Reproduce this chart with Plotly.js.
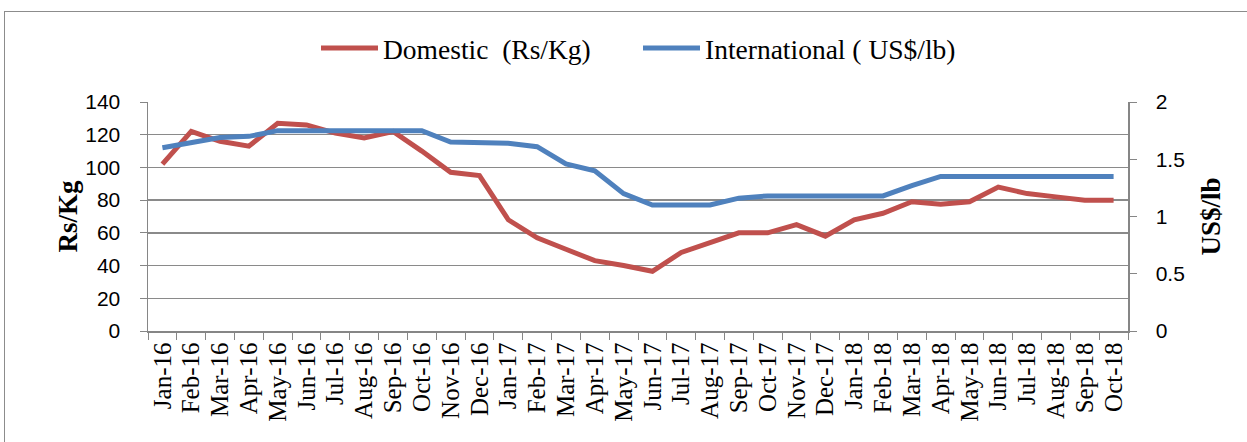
<!DOCTYPE html>
<html>
<head>
<meta charset="utf-8">
<script src="https://cdn.plot.ly/plotly-3.0.1.min.js"></script>
<style>
html,body{margin:0;padding:0;background:#fff;}
#wrap{position:relative;width:1247px;height:442px;overflow:hidden;}
#frame{position:absolute;left:4px;top:11px;width:1260px;height:460px;border:1.5px solid #8c8c8c;box-sizing:border-box;pointer-events:none;}
#chart{position:absolute;left:0;top:0;width:1247px;height:442px;}
</style>
</head>
<body>
<div id="wrap"><div id="chart"></div><div id="frame"></div></div>
<script>
const months = ["Jan-16","Feb-16","Mar-16","Apr-16","May-16","Jun-16","Jul-16","Aug-16","Sep-16","Oct-16","Nov-16","Dec-16",
"Jan-17","Feb-17","Mar-17","Apr-17","May-17","Jun-17","Jul-17","Aug-17","Sep-17","Oct-17","Nov-17","Dec-17",
"Jan-18","Feb-18","Mar-18","Apr-18","May-18","Jun-18","Jul-18","Aug-18","Sep-18","Oct-18"];
const domestic = [102,122,116,113,127,126,121,118,122,110,97,95,
68,57,50,43,40,36.5,48,54,60,60,65,58,
68,72,79,77.5,79,88,84,82,80,80];
const international = [1.60,1.64,1.69,1.70,1.75,1.75,1.75,1.75,1.75,1.75,1.65,1.65,
1.64,1.61,1.46,1.40,1.20,1.10,1.10,1.10,1.16,1.18,1.18,1.18,
1.18,1.18,1.27,1.35,1.35,1.35,1.35,1.35,1.35,1.35];
const leftTicks = [0,20,40,60,80,100,120,140];
const rightTicks = [0,0.5,1,1.5,2];

const SERIF = "Liberation Serif";
const SANS = "Liberation Sans";

const traces = [
  {x: months, y: domestic, type: "scatter", mode: "lines", name: "Domestic  (Rs/Kg)",
   line: {color: "#C0504D", width: 5}, yaxis: "y"},
  {x: months, y: international, type: "scatter", mode: "lines", name: "International ( US$/lb)",
   line: {color: "#4F81BD", width: 5}, yaxis: "y2"}
];

const layout = {
  width: 1247, height: 442,
  margin: {l: 148, r: 119, t: 102, b: 111},
  paper_bgcolor: "rgba(0,0,0,0)", plot_bgcolor: "#fff",
  showlegend: true,
  legend: {orientation: "h", x: 0.5, xanchor: "center", y: 1.235, yanchor: "middle",
           font: {family: SERIF, size: 27.5, color: "#000"},
           itemwidth: 57, entrywidth: 250, traceorder: "normal"},
  xaxis: {type: "category", tickangle: -90, ticks: "outside", ticklen: 7, tickcolor: "#868686",
          tickmode: "array", tickvals: months, ticktext: months,
          tickson: "boundaries", showline: true, linecolor: "#868686", linewidth: 1.5,
          showgrid: false, zeroline: false, range: [-0.5, months.length - 0.5],
          tickfont: {family: SERIF, size: 25, color: "#000"}},
  yaxis: {range: [0, 140], tickvals: leftTicks, ticks: "outside", ticklen: 7, tickcolor: "#868686",
          ticklabelstandoff: 15,
          showline: true, linecolor: "#868686", linewidth: 1.5, showgrid: true, gridcolor: "#8a8a8a",
          gridwidth: 1.5, zeroline: false,
          tickfont: {family: SANS, size: 21, color: "#000"},
          title: {text: "<b>Rs/Kg</b>", standoff: 0,
                  font: {family: SERIF, size: 27, color: "#000"}}},
  yaxis2: {range: [0, 2], tickvals: rightTicks, overlaying: "y", side: "right", ticks: "outside",
           ticklen: 7, tickcolor: "#868686", ticklabelstandoff: 15,
           showline: true, linecolor: "#868686", linewidth: 1.5,
           showgrid: false, zeroline: false,
           tickfont: {family: SANS, size: 21, color: "#000"},
           title: {text: "<b>US$/lb</b>", standoff: 17,
                   font: {family: SERIF, size: 27, color: "#000"}}}
};

Plotly.newPlot("chart", traces, layout, {displayModeBar: false, staticPlot: true});
</script>
</body>
</html>
